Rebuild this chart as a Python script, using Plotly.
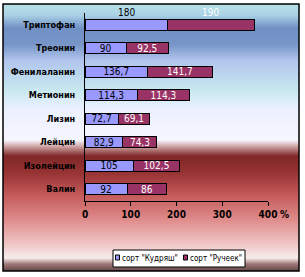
import plotly.graph_objects as go
import numpy as np

categories = ["Триптофан", "Треонин", "Фенилаланин", "Метионин", "Лизин", "Лейцин", "Изолейцин", "Валин"]
kudryash = [180, 90, 136.7, 114.3, 72.7, 82.9, 105, 92]
rucheek = [190, 92.5, 141.7, 114.3, 69.1, 74.3, 102.5, 86]
series_names = ['сорт "Кудряш"', 'сорт "Ручеек"']
x_ticks = [0, 100, 200, 300, 400]

W, H = 305, 277
L, R, T, B = 85, 268, 13, 201
C1, C2 = "#9999FF", "#993366"

def fmt(v):
    return f"{v:g}".replace(".", ",")

FONT = "DejaVu Sans Condensed, Liberation Sans, Arial, sans-serif"

def px2py(p):
    return (B - p) / (B - T)
def px2px(p):
    return (p - L) / (R - L)

k_text = ["" if i == 0 else fmt(v) for i, v in enumerate(kudryash)]
r_text = ["" if i == 0 else fmt(v) for i, v in enumerate(rucheek)]

fig = go.Figure()
fig.add_trace(go.Bar(
    y=categories, x=kudryash, orientation="h", name=series_names[0],
    marker=dict(color=C1, line=dict(color="#000000", width=1)),
    text=k_text, textposition="inside", insidetextanchor="middle",
    textfont=dict(family=FONT, size=10, color="#000000"),
))
fig.add_trace(go.Bar(
    y=categories, x=rucheek, orientation="h", name=series_names[1],
    marker=dict(color=C2, line=dict(color="#000000", width=1)),
    text=r_text, textposition="inside", insidetextanchor="middle",
    textfont=dict(family=FONT, size=10, color="#FFFFFF"),
))

fig.add_annotation(x=kudryash[0] / 2, y=categories[0], text=fmt(kudryash[0]),
                   showarrow=False, yshift=12, font=dict(family=FONT, size=10, color="#000000"))
fig.add_annotation(x=kudryash[0] + rucheek[0] / 2, y=categories[0], text=fmt(rucheek[0]),
                   showarrow=False, yshift=12, font=dict(family=FONT, size=10, color="#FFFFFF"))
fig.add_annotation(x=x_ticks[-1], y=0, yref="paper", text="<b>%</b>", showarrow=False,
                   xanchor="left", yanchor="middle", xshift=10, yshift=-13,
                   font=dict(family=FONT, size=10, color="#000000"))

# background gradient
stops = [
    (4, (184, 224, 232)),
    (15, (170, 210, 230)),
    (28, (112, 144, 196)),
    (45, (120, 150, 200)),
    (60, (176, 196, 236)),
    (90, (200, 232, 240)),
    (110, (236, 240, 255)),
    (140, (246, 246, 255)),
    (146, (210, 170, 170)),
    (156, (128, 40, 40)),
    (172, (150, 50, 50)),
    (195, (196, 90, 90)),
    (220, (224, 140, 140)),
    (245, (240, 200, 200)),
    (258, (248, 236, 236)),
    (264, (160, 120, 120)),
    (271, (100, 70, 70)),
]
ys = [s[0] for s in stops]
cols = np.array([s[1] for s in stops], dtype=float)
for yy in range(4, 271):
    c = [int(round(np.interp(yy + 0.5, ys, cols[:, k]))) for k in range(3)]
    fig.add_shape(type="rect", xref="paper", yref="paper",
                  x0=px2px(3), x1=px2px(299), y0=px2py(yy), y1=px2py(yy + 1),
                  fillcolor=f"rgb({c[0]},{c[1]},{c[2]})", line=dict(width=0), layer="below")
fig.add_shape(type="rect", xref="paper", yref="paper",
              x0=px2px(3), x1=px2px(299), y0=px2py(4), y1=px2py(271),
              line=dict(color="#000000", width=1.5), fillcolor="rgba(0,0,0,0)", layer="above")

# legend box (drawn)
fig.add_shape(type="rect", xref="paper", yref="paper",
              x0=px2px(113), x1=px2px(245), y0=px2py(250), y1=px2py(267),
              line=dict(color="#000000", width=1), fillcolor="#FFFFFF", layer="above")
for sx, col, name in [(115, C1, series_names[0]), (183, C2, series_names[1])]:
    fig.add_shape(type="rect", xref="paper", yref="paper",
                  x0=px2px(sx + 0.5), x1=px2px(sx + 4.5), y0=px2py(255), y1=px2py(260),
                  line=dict(color="#000000", width=1), fillcolor=col, layer="above")
    fig.add_annotation(xref="paper", yref="paper", x=px2px(sx + 5), y=px2py(258),
                       xanchor="left", yanchor="middle", text=name, showarrow=False,
                       font=dict(family=FONT, size=8, color="#000000"))

fig.update_layout(
    width=W, height=H,
    margin=dict(l=L, r=W - R, t=T, b=H - B),
    paper_bgcolor="#FFFFFF", plot_bgcolor="rgba(0,0,0,0)",
    barmode="stack", bargap=0.55,
    showlegend=False,
    uniformtext=dict(minsize=9, mode="show"),
    font=dict(family=FONT, size=10, color="#000000"),
)
fig.update_xaxes(range=[0, 400], tickvals=x_ticks, ticktext=[f"<b>{t}</b>" for t in x_ticks],
                 showgrid=False, zeroline=False, showline=True, linecolor="#000000", linewidth=1,
                 ticks="outside", ticklen=4, tickcolor="#000000",
                 tickfont=dict(family=FONT, size=10, color="#000000"))
fig.update_yaxes(autorange="reversed", showgrid=False, showline=True, linecolor="#000000",
                 linewidth=1, ticks="", ticklabelstandoff=7,
                 tickfont=dict(family=FONT, size=9, color="#000000", weight="bold"))

fig.write_html("out.html")
